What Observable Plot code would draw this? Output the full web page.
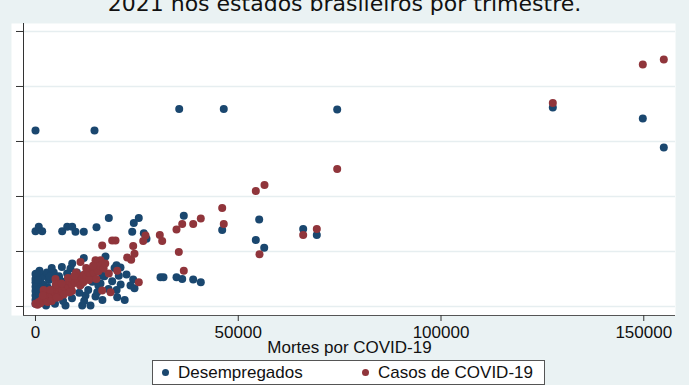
<!DOCTYPE html>
<html><head><meta charset="utf-8">
<script src="https://cdn.jsdelivr.net/npm/d3@7"></script>
<script src="https://cdn.jsdelivr.net/npm/@observablehq/plot@0.6"></script>
<style>
html,body{margin:0;padding:0;background:#eaf2f3;}
#wrap{position:relative;width:689px;height:385px;overflow:hidden;background:#eaf2f3;}
#title{position:absolute;left:0;width:689px;top:-7px;text-align:center;font-family:"DejaVu Sans";font-size:22px;line-height:22px;color:#111;white-space:nowrap;}
#chart{position:absolute;left:0;top:16px;}
#legend{position:absolute;left:152px;top:360px;width:391px;height:23px;background:#fff;border:1px solid #555;font-family:"Liberation Sans";font-size:17px;color:#111;}
.dot{position:absolute;width:7px;height:7px;border-radius:50%;top:8px;}
.lt{position:absolute;top:2px;line-height:19px;white-space:nowrap;}
</style>
</head><body>
<div id="wrap">
  <div id="title">2021 nos estados brasileiros por trimestre.</div>
  <div id="chart"></div>
  <div id="legend">
    <span class="dot" style="left:9px;background:#1a476f"></span><span class="lt" style="left:25px">Desempregados</span>
    <span class="dot" style="left:209px;background:#90353b"></span><span class="lt" style="left:225px">Casos de COVID-19</span>
  </div>
</div>
<script>
const xTicks = [0, 50000, 100000, 150000];
const yTicks = [0, 1, 2, 3, 4, 5];
const xLabel = "Mortes por COVID-19";

// [Mortes por COVID-19, valor]
const desempregados = [
  [0,3.20],[14550,3.20],[35440,3.59],[46430,3.59],[74400,3.58],[127570,3.62],[149760,3.42],[154940,2.89],
  [55160,1.58],[54330,1.21],[56400,1.07],[66010,1.41],[69370,1.30],
  [46040,1.39],[36570,1.65],[30830,0.53],[31560,0.53],[34770,0.53],[36180,0.50],[38890,0.49],[40760,0.44],
  [25470,1.61],[24240,1.52],[23850,1.36],[26710,1.33],[27370,1.23],[22440,0.58],[24090,0.49],[23430,0.38],[24410,0.33],[20960,0.71],
  [18080,1.61],[15040,1.44],[0,1.37],[810,1.45],[1650,1.37],[6580,1.37],[7820,1.45],[9050,1.45],[9860,1.36],[11910,1.36],
  [17260,0.91],[11910,0.88],[9050,0.78],[0,0.59],[4510,0.62],[0,0.44],[8630,0.69],[20540,0.56],[16450,0.56],[18910,0.46],
  [15220,0.26],[20150,0.17],[11520,0.02],[13560,0.02],[7400,0.02],[12330,0.20],[19970,0.75],[16030,0.42],
  [0,0.05],[0,0.12],[0,0.20],[0,0.28],[0,0.36],[0,0.50],[600,0.08],[800,0.30],[1200,0.18],[1500,0.42],[1800,0.55],
  [2200,0.25],[2500,0.10],[3000,0.35],[3300,0.48],[3800,0.15],[4200,0.30],[4800,0.05],[5200,0.42],[5800,0.55],
  [6200,0.20],[6800,0.10],[7200,0.45],[7800,0.60],[8400,0.30],[9000,0.15],[9500,0.50],[10200,0.62],[10800,0.25],
  [11200,0.40],[12000,0.10],[13000,0.30],[14000,0.45],[15500,0.38],[17000,0.55],[19500,0.70],[20000,0.30],[22000,0.12],
  [2800,0.62],[1000,0.65],[4000,0.70],[6500,0.72],[300,0.60],
  [1000,0.22],[2000,0.38],[3500,0.55],[5500,0.32],[6000,0.48],[8000,0.40],[10500,0.48],[12500,0.52],[14800,0.18],
  [16500,0.12],[18000,0.32],[21000,0.40],[600,0.48],[2600,0.02],[4400,0.18]
];

const casos = [
  [149760,4.40],[154940,4.49],[127570,3.70],[74400,2.50],[56470,2.21],[54330,2.10],[55240,0.95],[66010,1.30],[69370,1.41],
  [46040,1.79],[46430,1.50],[36180,1.50],[34770,1.40],[38890,1.50],[40760,1.60],[30650,1.30],[31240,1.19],[35340,0.99],[36570,0.65],
  [27130,1.29],[26560,1.19],[24090,1.10],[24410,0.96],[22610,0.89],[23600,0.85],[25470,0.44],
  [19730,1.20],[18910,1.20],[16450,1.11],[16030,0.84],[14800,0.84],[11100,0.81],[4930,0.50],[13560,0.56],[20150,0.65],
  [16450,0.29],[18500,0.26],[18080,0.60],
  [0,0.05],[500,0.03],[800,0.08],[1200,0.06],[1500,0.12],[2000,0.10],[2300,0.16],[2700,0.13],[3000,0.20],[3400,0.17],
  [3800,0.22],[4200,0.19],[4500,0.27],[5000,0.24],[5400,0.30],[5800,0.26],[6200,0.33],[6600,0.30],[7000,0.37],[7400,0.34],
  [7800,0.40],[8200,0.36],[8600,0.44],[9000,0.40],[9400,0.47],[9800,0.43],[10200,0.51],[10600,0.46],[11000,0.55],[11500,0.50],
  [12000,0.58],[12500,0.53],[13000,0.62],[13500,0.57],[14000,0.66],[14500,0.61],[15000,0.70],[15500,0.64],[16000,0.74],[16800,0.69],
  [3000,0.08],[6000,0.18],[9000,0.28],[5000,0.40],[8000,0.52],[11000,0.38],[12500,0.70],[7000,0.22],[10000,0.62],[2000,0.30],
  [4000,0.10],[15000,0.50],
  [1800,0.20],[3600,0.30],[5200,0.16],[6400,0.42],[8400,0.26],[9600,0.56],[11800,0.44],[13200,0.48],[14200,0.74],[17200,0.78]
];

const xDomain = [-2959, 157824];
const yDomain = [-0.164, 5.145];

const chart = Plot.plot({
  width: 689, height: 340,
  marginTop: 7, marginBottom: 41, marginLeft: 23, marginRight: 14,
  x: {domain: xDomain},
  y: {domain: yDomain},
  style: {background: "transparent", fontFamily: "Liberation Sans", color: "#111"},
  marks: [
    Plot.frame({fill: "white", stroke: "none", insetLeft: -12}),
    Plot.gridY(yTicks, {stroke: "#e6eef0", strokeOpacity: 1, strokeWidth: 1.5}),
    Plot.ruleX([xDomain[0]], {stroke: "#333"}),
    Plot.ruleY([yDomain[0]], {stroke: "#555"}),
    Plot.axisY({ticks: yTicks, tickSize: 7, tickFormat: () => "", label: null, stroke: "#333"}),
    Plot.axisX({ticks: xTicks, tickSize: 6, tickPadding: 4, fontSize: 17, tickFormat: d => String(d), label: null, stroke: "#333"}),
    Plot.text([xLabel], {frameAnchor: "bottom", dy: 32, fontSize: 17, lineAnchor: "middle", fill: "#111"}),
    Plot.dot(desempregados, {x: d => d[0], y: d => d[1], r: 4, fill: "#1a476f"}),
    Plot.dot(casos, {x: d => d[0], y: d => d[1], r: 4, fill: "#90353b"})
  ]
});
document.getElementById("chart").appendChild(chart);
</script>
</body></html>
